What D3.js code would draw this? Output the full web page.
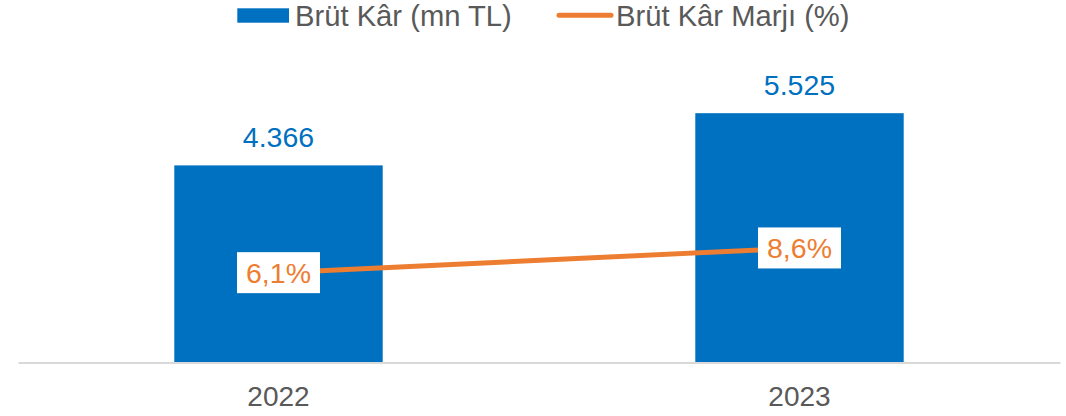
<!DOCTYPE html>
<html>
<head>
<meta charset="utf-8">
<script src="https://cdn.jsdelivr.net/npm/d3@7"></script>
<style>
  body { margin: 0; background: #fff; }
  #chart { width: 1066px; height: 416px; }
  text { font-family: "Liberation Sans", Arial, sans-serif; }
</style>
</head>
<body>
<div id="chart"></div>
<script>
// data
var years = ["2022", "2023"]
var brutKar = [4366, 5525]          // mn TL
var brutKarMarji = [6.1, 8.6]        // %
var barLabels = ["4.366", "5.525"]
var marjiLabels = ["6,1%", "8,6%"]
var legendNames = ["Brüt Kâr (mn TL)", "Brüt Kâr Marjı (%)"]

var width = 1066,
    height = 416

var blue = "#0070C0",
    orange = "#ED7D31",
    grey = "#595959"

var svg = d3.select("#chart")
    .append("svg")
    .attr("width", width)
    .attr("height", height)

var x = d3.scaleBand()
    .domain(years)
    .range([18, 1060])
    .paddingInner(0.6)
    .paddingOuter(0.3)

var y = d3.scaleLinear()
    .domain([0, 6000])
    .range([362, 91.8])

// secondary axis for the margin line (not drawn)
var y2 = d3.scaleLinear()
    .domain([-2.94, 24.4])
    .range([362, 91.8])

// bars
svg.selectAll(".bar")
    .data(brutKar)
    .enter()
    .append("rect")
    .attr("class", "bar")
    .attr("x", function(d, i) { return x(years[i]) })
    .attr("y", function(d) { return y(d) })
    .attr("width", x.bandwidth())
    .attr("height", function(d) { return y(0) - y(d) })
    .attr("fill", blue)

// category axis
var xAxis = svg.append("g")
    .attr("transform", "translate(0," + 362.5 + ")")
    .call(d3.axisBottom(x).tickSize(0).tickPadding(43))
xAxis.select(".domain")
    .attr("stroke", "#d9d9d9")
    .attr("stroke-width", 2)
xAxis.selectAll("text")
    .attr("fill", grey)
    .style("font-size", "28px")
    .style("font-family", "'Liberation Sans', Arial, sans-serif")
    .attr("dy", "0")

// bar value labels
svg.selectAll(".barlabel")
    .data(brutKar)
    .enter()
    .append("text")
    .attr("class", "barlabel")
    .attr("x", function(d, i) { return x(years[i]) + x.bandwidth() / 2 })
    .attr("y", function(d) { return y(d) - 18.5 })
    .attr("text-anchor", "middle")
    .attr("fill", blue)
    .style("font-size", "28.5px")
    .text(function(d, i) { return barLabels[i] })

// margin line
var line = d3.line()
    .x(function(d, i) { return x(years[i]) + x.bandwidth() / 2 })
    .y(function(d) { return y2(d) })

svg.append("path")
    .datum(brutKarMarji)
    .attr("d", line)
    .attr("fill", "none")
    .attr("stroke", orange)
    .attr("stroke-width", 5)
    .attr("stroke-linecap", "round")

// margin labels with white boxes
var ml = svg.selectAll(".marjilabel")
    .data(brutKarMarji)
    .enter()
    .append("g")
    .attr("class", "marjilabel")
    .attr("transform", function(d, i) {
        return "translate(" + (x(years[i]) + x.bandwidth() / 2) + "," + y2(d) + ")"
    })

ml.append("rect")
    .attr("x", -41.5)
    .attr("y", -20.5)
    .attr("width", 83)
    .attr("height", 41)
    .attr("fill", "#fff")

ml.append("text")
    .attr("text-anchor", "middle")
    .attr("y", 10)
    .attr("fill", orange)
    .style("font-size", "28.5px")
    .text(function(d, i) { return marjiLabels[i] })

// legend
var legend = svg.append("g")

legend.append("rect")
    .attr("x", 237.3)
    .attr("y", 8.3)
    .attr("width", 51.7)
    .attr("height", 14.4)
    .attr("fill", blue)

legend.append("text")
    .attr("x", 295)
    .attr("y", 25.5)
    .attr("fill", grey)
    .style("font-size", "29.2px")
    .text(legendNames[0])

legend.append("line")
    .attr("x1", 559)
    .attr("x2", 611)
    .attr("y1", 15.3)
    .attr("y2", 15.3)
    .attr("stroke", orange)
    .attr("stroke-width", 5)
    .attr("stroke-linecap", "round")

legend.append("text")
    .attr("x", 616)
    .attr("y", 25.5)
    .attr("fill", grey)
    .style("font-size", "29.2px")
    .text(legendNames[1])
</script>
</body>
</html>
